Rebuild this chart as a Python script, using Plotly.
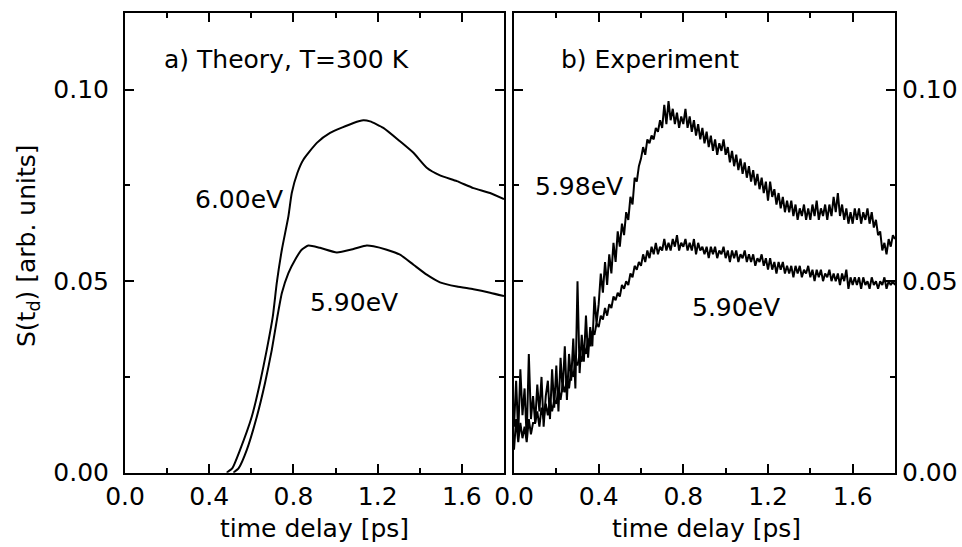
import plotly.graph_objects as go

# ---------------- data ----------------
# (a) Theory, T=300 K
theory_600_t = [0.483, 0.510, 0.546, 0.602, 0.641, 0.673, 0.702, 0.721, 0.745, 0.776, 0.792,
                0.819, 0.847, 0.911, 0.974, 1.085, 1.132, 1.164, 1.227, 1.306, 1.370, 1.433,
                1.496, 1.576, 1.655, 1.734, 1.800]
theory_600_s = [0.0000, 0.0012, 0.0059, 0.0146, 0.0234, 0.0320, 0.0408, 0.0496, 0.0582, 0.0669, 0.0730,
                0.0783, 0.0817, 0.0861, 0.0887, 0.0913, 0.0920, 0.0917, 0.0900, 0.0865, 0.0835, 0.0796,
                0.0776, 0.0761, 0.0743, 0.0730, 0.0714]

theory_590_t = [0.515, 0.540, 0.578, 0.626, 0.665, 0.697, 0.724, 0.745, 0.776, 0.808, 0.839,
                0.871, 0.926, 1.006, 1.085, 1.148, 1.180, 1.243, 1.306, 1.370, 1.433, 1.496,
                1.576, 1.655, 1.734, 1.800]
theory_590_s = [0.0000, 0.0012, 0.0059, 0.0146, 0.0234, 0.0320, 0.0408, 0.0469, 0.0521, 0.0556, 0.0582,
                0.0593, 0.0587, 0.0575, 0.0584, 0.0593, 0.0591, 0.0582, 0.0569, 0.0543, 0.0517, 0.0497,
                0.0486, 0.0479, 0.0470, 0.0461]

# (b) Experiment, sampled every 0.01 ps from 0.00 to 1.80 ps
exp_step = 0.01
exp_598_s = [
    0.012, 0.024, 0.010, 0.027, 0.015, 0.022, 0.009, 0.031, 0.014, 0.020,
    0.013, 0.023, 0.016, 0.025, 0.012, 0.020, 0.024, 0.014, 0.027, 0.017,
    0.028, 0.016, 0.030, 0.021, 0.033, 0.019, 0.031, 0.024, 0.035, 0.022,
    0.050, 0.026, 0.036, 0.029, 0.041, 0.030, 0.038, 0.033, 0.046, 0.039,
    0.044, 0.052, 0.047, 0.055, 0.049, 0.057, 0.052, 0.060, 0.055, 0.063,
    0.059, 0.065, 0.062, 0.068, 0.066, 0.072, 0.070, 0.077, 0.076, 0.080,
    0.082, 0.085, 0.083, 0.087, 0.086, 0.088, 0.087, 0.090, 0.089, 0.092,
    0.090, 0.096, 0.091, 0.097, 0.092, 0.095, 0.091, 0.094, 0.090, 0.093,
    0.091, 0.095, 0.090, 0.093, 0.089, 0.092, 0.088, 0.091, 0.087, 0.090,
    0.086, 0.089, 0.085, 0.088, 0.084, 0.087, 0.083, 0.086, 0.084, 0.087,
    0.083, 0.085, 0.081, 0.084, 0.080, 0.083, 0.079, 0.082, 0.078, 0.081,
    0.077, 0.080, 0.076, 0.079, 0.075, 0.078, 0.074, 0.077, 0.073, 0.076,
    0.071, 0.076, 0.072, 0.074, 0.070, 0.073, 0.069, 0.072, 0.068, 0.071,
    0.068, 0.071, 0.067, 0.070, 0.066, 0.069, 0.067, 0.070, 0.066, 0.069,
    0.066, 0.070, 0.067, 0.071, 0.066, 0.069, 0.067, 0.070, 0.066, 0.070,
    0.067, 0.072, 0.068, 0.073, 0.067, 0.070, 0.066, 0.069, 0.065, 0.068,
    0.065, 0.069, 0.066, 0.069, 0.065, 0.068, 0.066, 0.069, 0.065, 0.068,
    0.064, 0.066, 0.062, 0.063, 0.058, 0.060, 0.057, 0.061, 0.059, 0.062,
    0.061]
exp_590_s = [
    0.006, 0.014, 0.008, 0.013, 0.009, 0.012, 0.008, 0.014, 0.010, 0.013,
    0.013, 0.016, 0.012, 0.017, 0.014, 0.018, 0.015, 0.019, 0.016, 0.019,
    0.018, 0.022, 0.019, 0.023, 0.021, 0.025, 0.022, 0.027, 0.025, 0.029,
    0.028, 0.031, 0.029, 0.033, 0.031, 0.035, 0.033, 0.037, 0.036, 0.039,
    0.038, 0.041, 0.040, 0.043, 0.041, 0.044, 0.043, 0.046, 0.045, 0.047,
    0.046, 0.049, 0.048, 0.050, 0.049, 0.052, 0.051, 0.054, 0.053, 0.055,
    0.054, 0.057, 0.055, 0.058, 0.056, 0.059, 0.057, 0.060, 0.057, 0.059,
    0.058, 0.061, 0.058, 0.060, 0.058, 0.061, 0.059, 0.062, 0.058, 0.060,
    0.059, 0.061, 0.058, 0.060, 0.058, 0.061, 0.057, 0.060, 0.058, 0.059,
    0.057, 0.059, 0.056, 0.059, 0.057, 0.059, 0.056, 0.058, 0.057, 0.059,
    0.056, 0.058, 0.055, 0.058, 0.056, 0.058, 0.055, 0.057, 0.056, 0.058,
    0.055, 0.057, 0.055, 0.057, 0.054, 0.056, 0.055, 0.057, 0.054, 0.056,
    0.053, 0.056, 0.053, 0.055, 0.052, 0.055, 0.053, 0.055, 0.052, 0.054,
    0.052, 0.054, 0.051, 0.054, 0.052, 0.054, 0.051, 0.053, 0.052, 0.054,
    0.051, 0.053, 0.050, 0.053, 0.051, 0.053, 0.050, 0.052, 0.051, 0.053,
    0.050, 0.052, 0.050, 0.052, 0.049, 0.052, 0.050, 0.053, 0.048, 0.051,
    0.049, 0.051, 0.049, 0.051, 0.048, 0.051, 0.049, 0.050, 0.048, 0.051,
    0.049, 0.050, 0.048, 0.050, 0.049, 0.051, 0.048, 0.050, 0.049, 0.050,
    0.049]
exp_t = [round(i * exp_step, 2) for i in range(len(exp_598_s))]

x_tickvals = [0.0, 0.4, 0.8, 1.2, 1.6]
x_ticktext = ["0.0", "0.4", "0.8", "1.2", "1.6"]
y_tickvals = [0.00, 0.05, 0.10]
y_ticktext = ["0.00", "0.05", "0.10"]

panel_labels = ["a) Theory, T=300 K", "b) Experiment"]
curve_labels_a = ["6.00eV", "5.90eV"]
curve_labels_b = ["5.98eV", "5.90eV"]
x_title = "time delay [ps]"
y_title = "S(t<sub>d</sub>) [arb. units]"

# ---------------- figure ----------------
FONT = "DejaVu Sans"
W, H = 962, 547
fig = go.Figure()

theory_line = dict(color="black", width=2, shape="spline", smoothing=0.5)
exp_line = dict(color="black", width=2)
fig.add_trace(go.Scatter(x=theory_600_t, y=theory_600_s, mode="lines", line=theory_line, xaxis="x", yaxis="y"))
fig.add_trace(go.Scatter(x=theory_590_t, y=theory_590_s, mode="lines", line=theory_line, xaxis="x", yaxis="y"))
fig.add_trace(go.Scatter(x=exp_t, y=exp_598_s, mode="lines", line=exp_line, xaxis="x2", yaxis="y2"))
fig.add_trace(go.Scatter(x=exp_t, y=exp_590_s, mode="lines", line=exp_line, xaxis="x2", yaxis="y2"))

# panel geometry in pixels
L1, R1, L2, R2 = 125, 504, 514, 895
TOP, BOT = 13, 472.7
yd = [1 - BOT / H, 1 - TOP / H]

common_x = dict(range=[0, 1.8], tickvals=x_tickvals, ticktext=x_ticktext, ticks="inside",
                ticklen=9, tickwidth=2, tickcolor="black", showline=True, linewidth=2,
                linecolor="black", mirror="allticks", showgrid=False, zeroline=False,
                automargin=False,
                tickfont=dict(family=FONT, size=25, color="black"),
                minor=dict(dtick=0.2, tick0=0, ticks="inside", ticklen=5, tickwidth=2, tickcolor="black"))
common_y = dict(range=[0, 0.12], tickvals=y_tickvals, ticktext=y_ticktext, ticks="inside",
                ticklen=9, tickwidth=2, tickcolor="black", showline=True, linewidth=2,
                linecolor="black", mirror="allticks", showgrid=False, zeroline=False,
                automargin=False,
                tickfont=dict(family=FONT, size=25, color="black"),
                minor=dict(dtick=0.025, tick0=0, ticks="inside", ticklen=5, tickwidth=2, tickcolor="black"))

fig.update_layout(
    width=W, height=H, autosize=False,
    margin=dict(l=0, r=0, t=0, b=0, pad=0),
    paper_bgcolor="white", plot_bgcolor="white",
    showlegend=False,
    font=dict(family=FONT, size=25, color="black"),
    xaxis=dict(domain=[L1 / W, R1 / W], anchor="y", **common_x),
    yaxis=dict(domain=yd, anchor="x", side="left", ticklabelstandoff=9, **common_y),
    xaxis2=dict(domain=[L2 / W, R2 / W], anchor="y2", **common_x),
    yaxis2=dict(domain=yd, anchor="x2", side="right", **common_y),
)

ann = []
fnt = dict(family=FONT, size=25, color="black")
ann.append(dict(text=panel_labels[0], x=0.176, y=0.1079, xref="x", yref="y", xanchor="left", yanchor="middle", showarrow=False, font=fnt))
ann.append(dict(text=panel_labels[1], x=0.2126, y=0.1079, xref="x2", yref="y2", xanchor="left", yanchor="middle", showarrow=False, font=fnt))
ann.append(dict(text=curve_labels_a[0], x=0.323, y=0.0712, xref="x", yref="y", xanchor="left", yanchor="middle", showarrow=False, font=fnt))
ann.append(dict(text=curve_labels_a[1], x=0.869, y=0.0444, xref="x", yref="y", xanchor="left", yanchor="middle", showarrow=False, font=fnt))
ann.append(dict(text=curve_labels_b[0], x=0.0897, y=0.0747, xref="x2", yref="y2", xanchor="left", yanchor="middle", showarrow=False, font=fnt))
ann.append(dict(text=curve_labels_b[1], x=0.831, y=0.0430, xref="x2", yref="y2", xanchor="left", yanchor="middle", showarrow=False, font=fnt))
ann.append(dict(text=x_title, x=314.5 / W, y=1 - 528 / H, xref="paper", yref="paper", xanchor="center", yanchor="middle", showarrow=False, font=fnt))
ann.append(dict(text=x_title, x=706 / W, y=1 - 528 / H, xref="paper", yref="paper", xanchor="center", yanchor="middle", showarrow=False, font=fnt))
ann.append(dict(text=y_title, x=28 / W, y=1 - 246 / H, xref="paper", yref="paper", xanchor="center", yanchor="middle", textangle=-90, showarrow=False, font=fnt))
fig.update_layout(annotations=ann)

fig.write_html("out.html", config={"displayModeBar": False},
               post_script="document.body.style.margin='0px';document.body.style.overflow='hidden';")
